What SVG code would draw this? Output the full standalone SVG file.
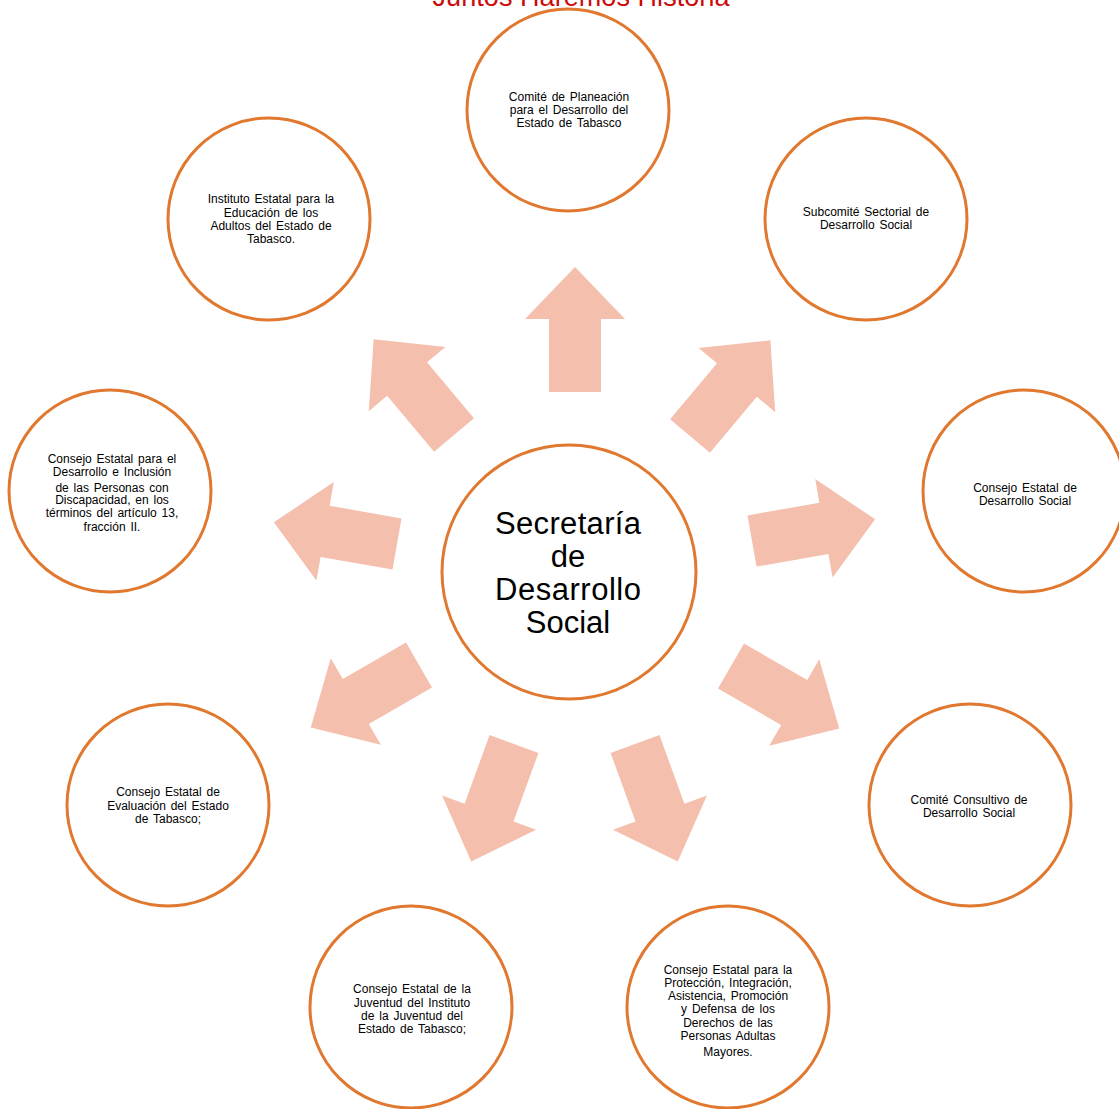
<svg xmlns="http://www.w3.org/2000/svg" width="1119" height="1109" viewBox="0 0 1119 1109">
<defs>
<style>
.n circle{fill:#fff;stroke:#E0782F;stroke-width:3}
.t{font-family:"Liberation Sans",Arial,sans-serif;font-size:12px;fill:#000;text-anchor:middle;word-spacing:1.5px}
.c{font-family:"Liberation Sans",Arial,sans-serif;font-size:31px;fill:#000;text-anchor:middle}
.ar{fill:#F4BFAD}
</style>
<polygon id="arr" points="0,-26 73,-26 73,-50 125,0 73,50 73,26 0,26"/>
</defs>
<rect width="1119" height="1109" fill="#fff"/>
<text x="581" y="6" font-family="'Liberation Sans',Arial,sans-serif" font-size="27" fill="#CC0A0A" text-anchor="middle" textLength="297">Juntos Haremos Historia</text>
<g id="connectors" class="ar">
<use href="#arr" transform="translate(575,392) rotate(-90)"/>
<use href="#arr" transform="translate(690,436) rotate(-50)"/>
<use href="#arr" transform="translate(752,541) rotate(-10)"/>
<use href="#arr" transform="translate(731,666) rotate(30)"/>
<use href="#arr" transform="translate(635,744) rotate(70)"/>
<use href="#arr" transform="translate(514,744) rotate(110)"/>
<use href="#arr" transform="translate(419,665) rotate(150)"/>
<use href="#arr" transform="translate(397,544) rotate(190)"/>
<use href="#arr" transform="translate(454,435) rotate(230)"/>
</g>
<g id="center" class="n">
<circle cx="569" cy="572" r="127"/>
<text class="c" x="568" y="534" textLength="146">Secretaría</text>
<text class="c" x="568" y="567">de</text>
<text class="c" x="568" y="600" textLength="146">Desarrollo</text>
<text class="c" x="568" y="633">Social</text>
</g>
<g id="n1" class="n">
<circle cx="568" cy="110" r="101"/>
<text class="t" x="569" y="101">Comité de Planeación</text>
<text class="t" x="569" y="114">para el Desarrollo del</text>
<text class="t" x="569" y="127">Estado de Tabasco</text>
</g>
<g id="n2" class="n">
<circle cx="866" cy="219" r="101"/>
<text class="t" x="866" y="216">Subcomité Sectorial de</text>
<text class="t" x="866" y="229">Desarrollo Social</text>
</g>
<g id="n3" class="n">
<circle cx="1024" cy="491" r="101"/>
<text class="t" x="1025" y="492">Consejo Estatal de</text>
<text class="t" x="1025" y="505">Desarrollo Social</text>
</g>
<g id="n4" class="n">
<circle cx="970" cy="805" r="101"/>
<text class="t" x="969" y="804">Comité Consultivo de</text>
<text class="t" x="969" y="817">Desarrollo Social</text>
</g>
<g id="n5" class="n">
<circle cx="728" cy="1007" r="101"/>
<text class="t" x="728" y="974">Consejo Estatal para la</text>
<text class="t" x="728" y="987">Protección, Integración,</text>
<text class="t" x="728" y="1000">Asistencia, Promoción</text>
<text class="t" x="728" y="1013">y Defensa de los</text>
<text class="t" x="728" y="1027">Derechos de las</text>
<text class="t" x="728" y="1040">Personas Adultas</text>
<text class="t" x="728" y="1056">Mayores.</text>
</g>
<g id="n6" class="n">
<circle cx="411" cy="1007" r="101"/>
<text class="t" x="412" y="993">Consejo Estatal de la</text>
<text class="t" x="412" y="1007">Juventud del Instituto</text>
<text class="t" x="412" y="1020">de la Juventud del</text>
<text class="t" x="412" y="1033">Estado de Tabasco;</text>
</g>
<g id="n7" class="n">
<circle cx="168" cy="805" r="101"/>
<text class="t" x="168" y="796">Consejo Estatal de</text>
<text class="t" x="168" y="810">Evaluación del Estado</text>
<text class="t" x="168" y="823">de Tabasco;</text>
</g>
<g id="n8" class="n">
<circle cx="110" cy="491" r="101"/>
<text class="t" x="112" y="463">Consejo Estatal para el</text>
<text class="t" x="112" y="476">Desarrollo e  Inclusión</text>
<text class="t" x="112" y="492">de las Personas con</text>
<text class="t" x="112" y="504">Discapacidad, en los</text>
<text class="t" x="112" y="517">términos del artículo 13,</text>
<text class="t" x="112" y="531">fracción II.</text>
</g>
<g id="n9" class="n">
<circle cx="269" cy="219" r="101"/>
<text class="t" x="271" y="203">Instituto Estatal para la</text>
<text class="t" x="271" y="217">Educación de los</text>
<text class="t" x="271" y="230">Adultos del Estado de</text>
<text class="t" x="271" y="243">Tabasco.</text>
</g>
</svg>
